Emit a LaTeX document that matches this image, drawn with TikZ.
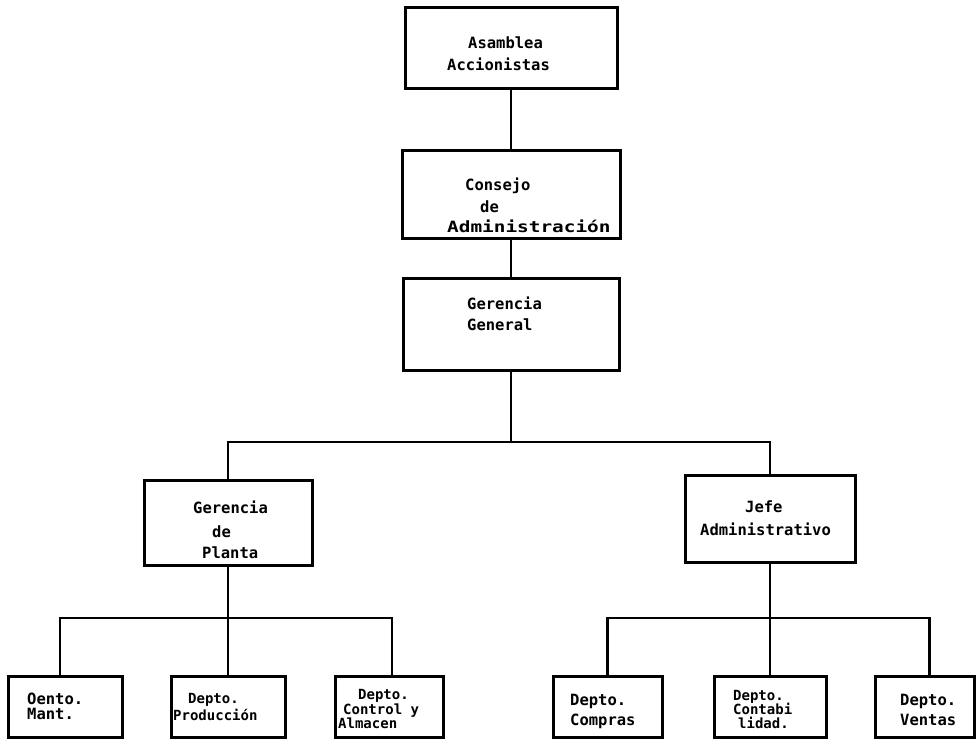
\documentclass[tikz,border=0pt]{standalone}
\usepackage{fontspec}
\usepackage{graphicx}
\newfontfamily\tw{DejaVu Sans Mono}
\usetikzlibrary{calc}
\tikzset{
  box/.style={draw, rectangle, line width=3pt, inner sep=0pt, line join=miter},
  conn/.style={line width=2.7pt, line join=miter},
  lbl/.style={anchor=base west, inner sep=0pt, font={\tw\bfseries\fontsize{15.5pt}{16pt}\selectfont}},
  slbl/.style={anchor=base west, inner sep=0pt, font={\tw\bfseries\fontsize{14pt}{14pt}\selectfont}}
}
\begin{document}
\begin{tikzpicture}[x=1pt, y=-1pt]
\useasboundingbox (0,0) rectangle (976,740);
% boxes
\node[box, minimum width=212pt, minimum height=81pt] (asam) at (511,47.5) {};
\node[box, minimum width=218pt, minimum height=88pt] (cons) at (511,194) {};
\node[box, minimum width=216pt, minimum height=92pt] (gg) at (511,324) {};
\node[box, minimum width=168pt, minimum height=85pt] (planta) at (228,522.5) {};
\node[box, minimum width=170pt, minimum height=87pt] (jefe) at (770,518.5) {};
\node[box, minimum width=114pt, minimum height=61pt] (mant) at (65,706.5) {};
\node[box, minimum width=114pt, minimum height=61pt] (prod) at (228,706.5) {};
\node[box, minimum width=108pt, minimum height=61pt] (ctrl) at (389,706.5) {};
\node[box, minimum width=109pt, minimum height=61pt] (comp) at (607.5,706.5) {};
\node[box, minimum width=112pt, minimum height=61pt] (cont) at (770,706.5) {};
\node[box, minimum width=99pt, minimum height=61pt] (vent) at (924.5,706.5) {};
% junctions
\coordinate (b1) at (511,442);
\coordinate (b2) at (228,618);
\coordinate (b3) at (770,618);
% connectors
\draw[conn] (asam.south) -- (cons.north);
\draw[conn] (cons.south) -- (gg.north);
\draw[conn] (gg.south) -- (b1);
\draw[conn] (planta.north) |- (b1) -| (jefe.north);
\draw[conn] (planta.south) -- (prod.north);
\draw[conn] ($(mant.north)+(-5,0)$) |- (b2) -| ($(ctrl.north)+(3,0)$);
\draw[conn] (jefe.south) -- (cont.north);
\draw[conn] (comp.north) |- (b3) -| ($(vent.north)+(5,0)$);
% texts
\node[lbl] (t1) at (468,48) {Asamblea};
\node[lbl] (t2) at (447,70) {Accionistas};
\node[lbl] (t3) at (465,190) {Consejo};
\node[lbl] (t4) at (480,212) {de};
\node[lbl] (t5) at (447,232) {\scalebox{1.25}[1]{Administración}};
\node[lbl] (t6) at (467,309) {Gerencia};
\node[lbl] (t7) at (467,330) {General};
\node[lbl] (t8) at (193,513) {Gerencia};
\node[lbl] (t9) at (212,537) {de};
\node[lbl] (t10) at (202,558) {Planta};
\node[lbl] (t11) at (745,512) {Jefe};
\node[lbl] (t12) at (700,535) {Administrativo};
\node[lbl] (t13) at (27,704) {Oento.};
\node[lbl] (t14) at (27,719) {Mant.};
\node[slbl] (t15) at (188,703) {Depto.};
\node[slbl] (t16) at (173,720) {Producción};
\node[slbl] (t17) at (358,699.5) {Depto.};
\node[slbl] (t18) at (343,714) {Control y};
\node[slbl] (t19) at (338,728.5) {Almacen};
\node[lbl] (t20) at (570,705) {Depto.};
\node[lbl] (t21) at (570,725) {Compras};
\node[slbl] (t22) at (733,700) {Depto.};
\node[slbl] (t23) at (733,714.5) {Contabi};
\node[slbl] (t24) at (738,728.5) {lidad.};
\node[lbl] (t25) at (900,705) {Depto.};
\node[lbl] (t26) at (900,725) {Ventas};
\end{tikzpicture}
\end{document}
